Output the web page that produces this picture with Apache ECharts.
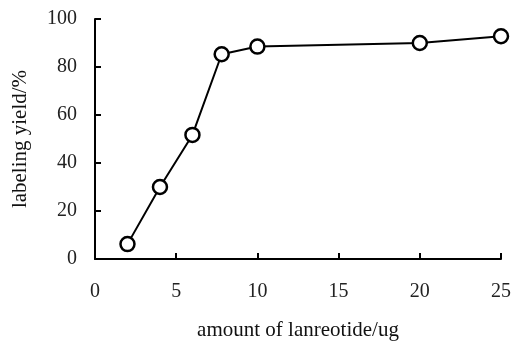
<!DOCTYPE html>
<html>
<head>
<meta charset="utf-8">
<script src="https://cdn.jsdelivr.net/npm/echarts@6/dist/echarts.min.js"></script>
<style>
html, body { margin: 0; padding: 0; background: #fff; }
#chart { width: 513px; height: 343px; }
</style>
</head>
<body>
<div id="chart"></div>
<script>
// amount of lanreotide (ug) vs labeling yield (%)
var amounts = [2, 4, 6, 7.8, 10, 20, 25];
var yields = [6.2, 30, 51.7, 85.3, 88.5, 90, 92.8];

var xTicks = [0, 5, 10, 15, 20, 25];
var yTicks = [0, 20, 40, 60, 80, 100];

var pts = [];
for (var i = 0; i < amounts.length; i++) {
    pts.push([amounts[i], yields[i]]);
}

var font = '"Liberation Serif", "DejaVu Serif", serif';

var h = echarts.init(document.getElementById('chart'));
var option = {
    animation: false,
    backgroundColor: '#fff',
    grid: { left: 95, right: 12, top: 19, bottom: 84, containLabel: false, outerBoundsMode: 'none' },
    xAxis: {
        type: 'value',
        min: xTicks[0],
        max: xTicks[xTicks.length - 1],
        interval: 5,
        name: 'amount of lanreotide/ug',
        nameLocation: 'middle',
        nameGap: 61,
        nameTextStyle: { fontFamily: font, fontSize: 21, color: '#111' },
        axisLine: { lineStyle: { color: '#000', width: 2 } },
        axisTick: { inside: true, length: 6, lineStyle: { color: '#000', width: 2 } },
        axisLabel: { fontFamily: font, fontSize: 20, color: '#222', margin: 23 },
        splitLine: { show: false }
    },
    yAxis: {
        type: 'value',
        min: yTicks[0],
        max: yTicks[yTicks.length - 1],
        interval: 20,
        name: 'labeling yield/%',
        nameLocation: 'middle',
        nameGap: 64,
        nameRotate: 90,
        nameTextStyle: { fontFamily: font, fontSize: 21, color: '#111' },
        axisLine: { show: true, lineStyle: { color: '#000', width: 2 } },
        axisTick: { show: true, inside: true, length: 6, lineStyle: { color: '#000', width: 2 } },
        axisLabel: { fontFamily: font, fontSize: 20, color: '#222', margin: 18 },
        splitLine: { show: false }
    },
    series: [{
        type: 'line',
        data: pts,
        symbol: 'circle',
        symbolSize: 14,
        showAllSymbol: true,
        lineStyle: { color: '#000', width: 2 },
        itemStyle: { color: '#fff', borderColor: '#000', borderWidth: 2.5 }
    }]
};
h.setOption(option);
</script>
</body>
</html>
